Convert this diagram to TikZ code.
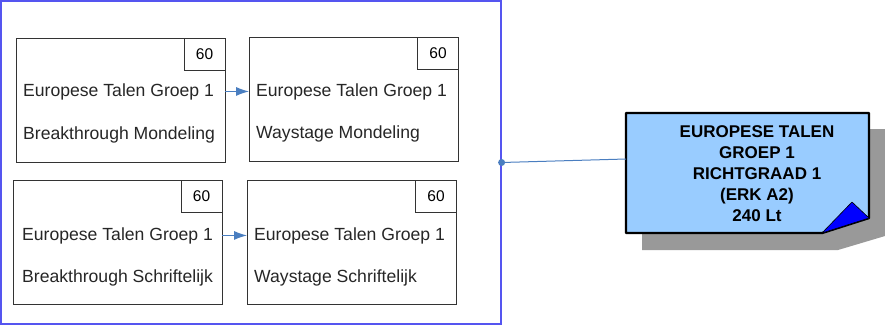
\documentclass[tikz,border=0pt]{standalone}
\usepackage{fontspec}
\setmainfont{Liberation Sans}
\usetikzlibrary{positioning,arrows.meta}
\definecolor{lijnblauw}{RGB}{74,126,192}
\definecolor{kaderblauw}{RGB}{85,85,240}
\definecolor{notitieblauw}{RGB}{153,204,255}
\definecolor{schaduw}{RGB}{153,153,153}

\begin{document}
\begin{tikzpicture}[x=1pt, y=-1pt,
	taak/.style={draw=black!80, line width=.8pt, minimum width=209pt, minimum height=124pt, inner sep=0pt},
	uren/.style={draw=black!80, line width=.8pt, minimum width=41pt, minimum height=32pt, inner sep=0pt, anchor=north east, font=\fontsize{15.5}{18}\selectfont},
	regel/.style={anchor=base west, inner sep=0pt, font=\fontsize{17.6}{20}\selectfont, text=black!85},
	pijl/.style={-{Latex[length=13pt,width=9pt]}, draw=lijnblauw, fill=lijnblauw, line width=1.2pt}]
	\useasboundingbox (0, 0) rectangle (885, 325);

	\node[draw=kaderblauw, line width=1.2pt, minimum width=500pt, minimum height=323pt, inner sep=0pt] (kader) at (251, 162.5) {};

	\node[taak] (bm) at (120.5, 100) {};
	\node[uren] (bmu) at (bm.north east) {60};
	\node[regel] (bm1) at (23, 96) {Europese Talen Groep 1};
	\node[regel] (bm2) at (23, 139) {Breakthrough Mondeling};

	\node[taak] (wm) at (354, 99) {};
	\node[uren] (wmu) at (wm.north east) {60};
	\node[regel] (wm1) at (256, 96) {Europese Talen Groep 1};
	\node[regel] (wm2) at (256, 138) {Waystage Mondeling};

	\node[taak] (bs) at (117.5, 242.5) {};
	\node[uren] (bsu) at (bs.north east) {60};
	\node[regel] (bs1) at (22, 240) {Europese Talen Groep 1};
	\node[regel] (bs2) at (22, 282) {Breakthrough Schriftelijk};

	\node[taak] (ws) at (352, 242) {};
	\node[uren] (wsu) at (ws.north east) {60};
	\node[regel] (ws1) at (254, 240) {Europese Talen Groep 1};
	\node[regel] (ws2) at (254, 282) {Waystage Schriftelijk};

	\draw[pijl] (bm.east |- bm1.west) -- (wm.west |- bm1.west);
	\draw[pijl] (bs.east |- bs1.west) -- (ws.west |- bs1.west);

	% notitie met omgekrulde hoek
	\fill[schaduw] (642, 129) -- (885, 129) -- (885, 236) -- (838, 250) -- (642, 250) -- cycle;
	\draw[fill=notitieblauw, line width=2.4pt, line join=round] (626, 113) -- (869, 113) -- (869, 218) -- (822, 233) -- (626, 233) -- cycle;
	\draw[fill=blue, line width=.6pt, line join=round] (822, 233) -- (852, 202) -- (869, 218) -- cycle;
	\node[align=center, inner sep=0pt, font=\fontsize{17}{21}\selectfont\bfseries] (richt) at (757, 174)
		{EUROPESE TALEN\\GROEP 1\\RICHTGRAAD 1\\(ERK A2)\\240 Lt};
	\coordinate (richtin) at (626, 159);

	\fill[lijnblauw] (kader.east) circle (3.5pt);
	\draw[lijnblauw, line width=1pt] (kader.east) -- (richtin);
\end{tikzpicture}
\end{document}
